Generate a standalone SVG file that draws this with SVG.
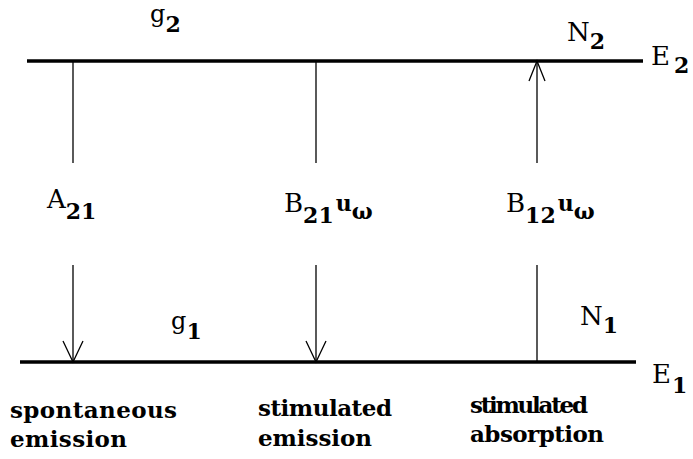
<svg xmlns="http://www.w3.org/2000/svg" width="693" height="459" viewBox="0 0 693 459">
<style>
.lvl{stroke:#000;stroke-width:3.5;fill:none}
.tr{stroke:#000;stroke-width:1.3;fill:none}
text{font-family:"DejaVu Serif","Liberation Serif",serif;fill:#000}
.m{font-size:26px}
.s{font-size:22px;font-weight:bold}
.lab{font-size:23px;font-weight:bold}
</style>
<rect width="693" height="459" fill="#fff"/>
<g id="level-E2">
<line class="lvl" x1="27" y1="61" x2="643" y2="61"/>
<text class="m" x="651" y="65">E<tspan class="s" dx="4" dy="8">2</tspan></text>
<text x="150" y="22" font-size="24">g<tspan class="s" dy="10">2</tspan></text>
<text class="m" x="567" y="41">N<tspan class="s" dy="8">2</tspan></text>
</g>
<g id="level-E1">
<line class="lvl" x1="20" y1="362" x2="636" y2="362"/>
<text class="m" x="652" y="383">E<tspan class="s" dx="1" dy="10">1</tspan></text>
<text x="171" y="329" font-size="24">g<tspan class="s" dy="10">1</tspan></text>
<text class="m" x="580" y="325">N<tspan class="s" dy="8">1</tspan></text>
</g>
<g id="connectors">
<line class="tr" x1="73" y1="61" x2="73" y2="163"/>
<line class="tr" x1="73" y1="265" x2="73" y2="362"/>
<polyline class="tr" points="63,341 73,362 83,341"/>
<line class="tr" x1="316" y1="61" x2="316" y2="163"/>
<line class="tr" x1="316" y1="265" x2="316" y2="362"/>
<polyline class="tr" points="306,341 316,362 326,341"/>
<line class="tr" x1="537" y1="61" x2="537" y2="163"/>
<line class="tr" x1="537" y1="265" x2="537" y2="362"/>
<polyline class="tr" points="529,81 537,61 545,81"/>
</g>
<g id="spontaneous">
<text class="m" x="47" y="208">A<tspan class="s" dy="11">21</tspan></text>
<text class="lab" x="10" y="418" textLength="167" lengthAdjust="spacing">spontaneous</text>
<text class="lab" x="10" y="447" textLength="117" lengthAdjust="spacing">emission</text>
</g>
<g id="stimulated-emission">
<text class="m" x="284" y="212">B<tspan class="s" dy="11">21</tspan><tspan class="s" dx="2" dy="-12">u</tspan><tspan class="s" font-size="16" dy="8">ω</tspan></text>
<text class="lab" x="258" y="416" textLength="134" lengthAdjust="spacing">stimulated</text>
<text class="lab" x="258" y="446" textLength="114" lengthAdjust="spacing">emission</text>
</g>
<g id="stimulated-absorption">
<text class="m" x="506" y="212">B<tspan class="s" dy="11">12</tspan><tspan class="s" dx="2" dy="-12">u</tspan><tspan class="s" font-size="16" dy="8">ω</tspan></text>
<text class="lab" x="470" y="413" textLength="118" lengthAdjust="spacing">stimulated</text>
<text class="lab" x="470" y="442" textLength="134" lengthAdjust="spacing">absorption</text>
</g>
</svg>
